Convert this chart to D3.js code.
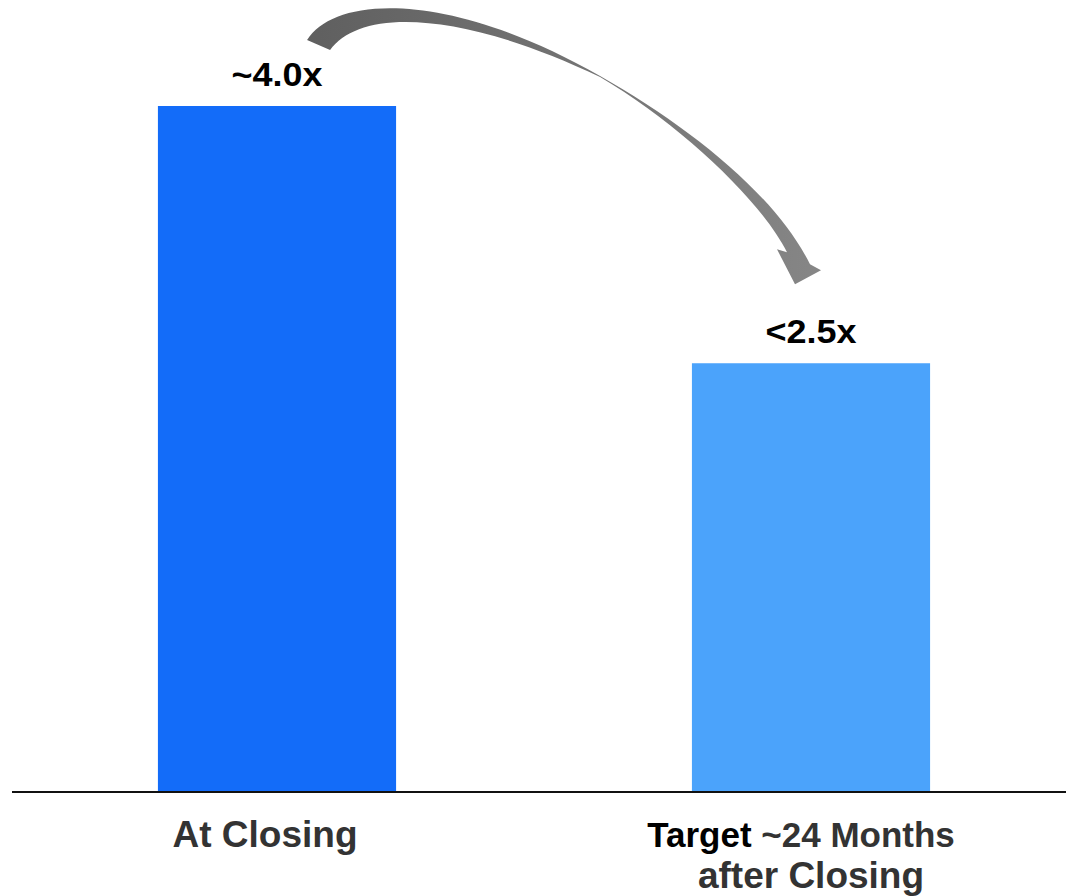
<!DOCTYPE html>
<html>
<head>
<meta charset="utf-8">
<script src="https://cdn.jsdelivr.net/npm/d3@7"></script>
<style>
  body { margin: 0; background: #fff; }
  svg text { font-family: "Liberation Sans", Arial, sans-serif; font-weight: bold; }
</style>
</head>
<body>
<div id="canvas"></div>
<script>
"use strict"

/* Data */
let categories = ["At Closing", "Target ~24 Months after Closing"];
let values = [4.0, 2.5];
let valueLabels = ["~4.0x", "<2.5x"];
let barColors = ["#136cf9", "#4ba3fb"];

/* Configuration variables: drawing */
let svgWidth = 1066;
let svgHeight = 896;
let baseY = 792;

let svg = d3.select("#canvas")
    .append("svg")
    .attr("width", svgWidth)
    .attr("height", svgHeight);

let xScale = d3.scaleBand()
    .domain(categories)
    .range([10, 1078])
    .paddingInner(0.554)
    .paddingOuter(0.277);

let yScale = d3.scaleLinear()
    .domain([0, 4])
    .range([baseY, 106]);

/* Bars */
svg.selectAll("rect.bar")
    .data(values)
    .join("rect")
    .attr("class", "bar")
    .attr("x", (d, i) => xScale(categories[i]))
    .attr("y", d => yScale(d))
    .attr("width", xScale.bandwidth())
    .attr("height", d => baseY - yScale(d))
    .attr("fill", (d, i) => barColors[i]);

/* Baseline */
svg.append("line")
    .attr("x1", 12)
    .attr("x2", svgWidth)
    .attr("y1", baseY)
    .attr("y2", baseY)
    .attr("stroke", "#111")
    .attr("stroke-width", 2);

/* Value labels */
svg.selectAll("text.value")
    .data(values)
    .join("text")
    .attr("class", "value")
    .attr("x", (d, i) => xScale(categories[i]) + xScale.bandwidth() / 2)
    .attr("y", d => yScale(d) - 20)
    .attr("text-anchor", "middle")
    .attr("font-size", 33)
    .attr("textLength", 91)
    .attr("lengthAdjust", "spacingAndGlyphs")
    .attr("fill", "#000")
    .text((d, i) => valueLabels[i]);

/* Category labels */
let cx0 = xScale(categories[0]) + xScale.bandwidth() / 2;
let cx1 = xScale(categories[1]) + xScale.bandwidth() / 2;

svg.append("text")
    .attr("x", cx0 - 12)
    .attr("y", baseY + 55)
    .attr("text-anchor", "middle")
    .attr("font-size", 37)
    .attr("fill", "#333")
    .text(categories[0]);

let cat2 = svg.append("text")
    .attr("text-anchor", "middle")
    .attr("font-size", 35)
    .attr("fill", "#333");
cat2.append("tspan")
    .attr("x", cx1 - 10)
    .attr("y", baseY + 55)
    .attr("fill", "#000")
    .text("Target");
cat2.append("tspan")
    .text(" ~24 Months");
cat2.append("tspan")
    .attr("x", cx1)
    .attr("y", baseY + 96)
    .attr("font-size", 37)
    .text("after Closing");

/* Curved arrow from first bar to second */
let ax = xScale(categories[0]) + xScale.bandwidth();   // right edge of bar 1
let ay = yScale(values[0]);
let bx = cx1;                                           // centre of bar 2
let by = yScale(values[1]);
let A = (dx, dy) => (ax + dx) + "," + (ay + dy);
let B = (dx, dy) => (bx + dx) + "," + (by + dy);

let defs = svg.append("defs");
let grad = defs.append("linearGradient")
    .attr("id", "arrowGrad")
    .attr("gradientUnits", "userSpaceOnUse")
    .attr("x1", ax - 90).attr("y1", 0)
    .attr("x2", bx + 10).attr("y2", 0);
grad.append("stop").attr("offset", "0%").attr("stop-color", "#5f5f5f");
grad.append("stop").attr("offset", "100%").attr("stop-color", "#868686");

let arrowPath = "M" + A(-89, -66) +
    " C" + A(-61, -111) + " " + A(54, -116) + " " + A(204, -30) +
    " C" + B(-121, -236) + " " + B(-36, -169) + " " + B(-1, -99) +
    " L" + B(10, -93) +
    " L" + B(-16, -79) +
    " L" + B(-34, -114) +
    " L" + B(-24, -111) +
    " C" + B(-51, -164) + " " + B(-131, -239) + " " + A(204, -29) +
    " C" + A(64, -96) + " " + A(-36, -98) + " " + A(-66, -56) +
    " Z";

svg.append("path")
    .attr("d", arrowPath)
    .attr("fill", "url(#arrowGrad)");
</script>
</body>
</html>
